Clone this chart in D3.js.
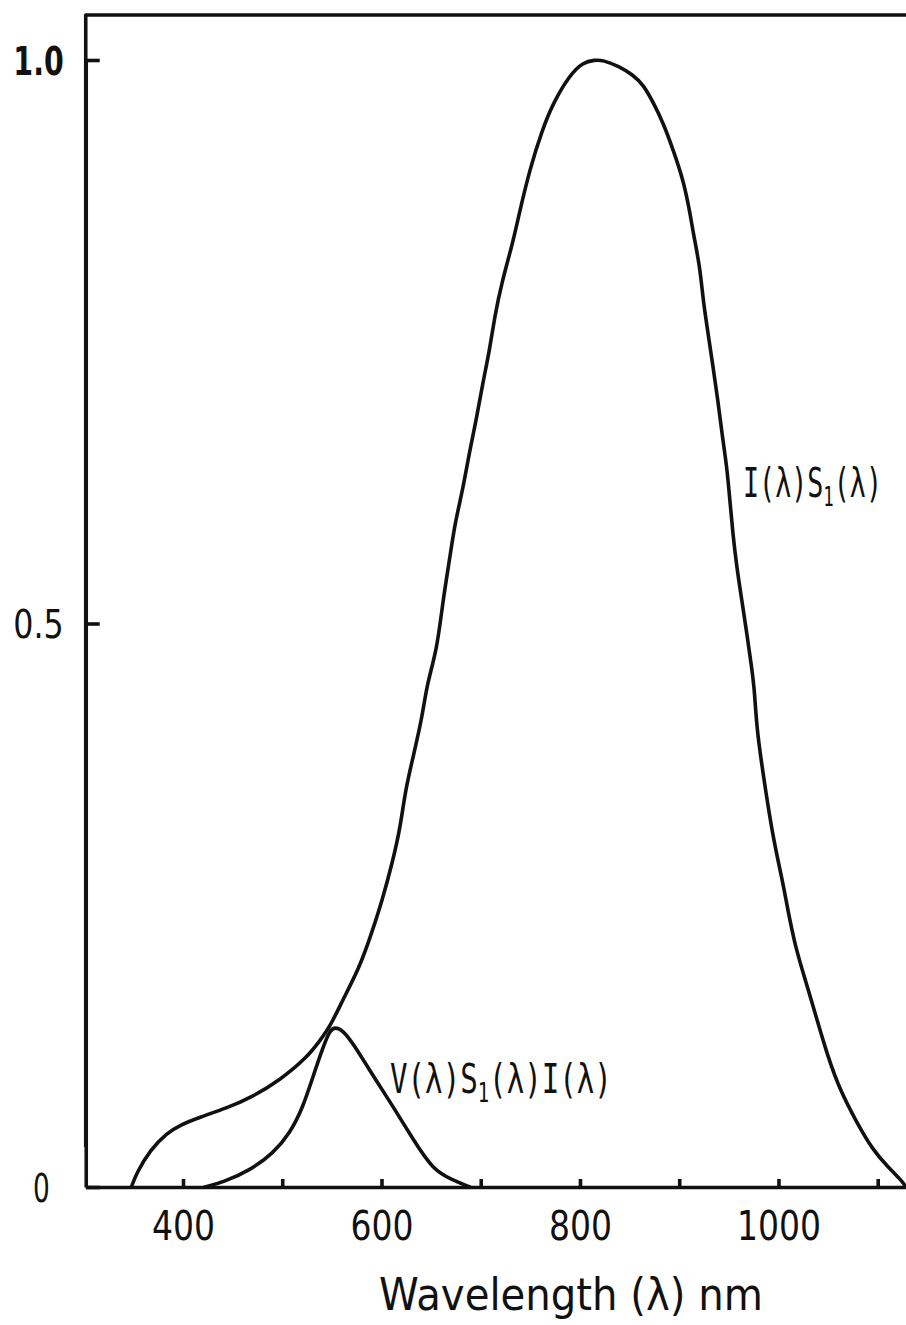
<!DOCTYPE html>
<html>
<head>
<meta charset="utf-8">
<script src="https://cdn.jsdelivr.net/npm/d3@7"></script>
<style>
  html, body { margin: 0; padding: 0; background: #fff; }
  svg { display: block; }
</style>
</head>
<body>
<svg id="chart" width="906" height="1325"></svg>
<script>
// Relative spectral curves, wavelength in nm vs. normalised value.
const irradianceWavelength = [348, 353, 367, 384, 397, 417, 444, 468, 498, 525, 538, 548, 561, 578, 590, 601, 611, 619, 624, 632, 641, 646, 656, 662, 669, 674, 682, 689, 696, 702, 709, 714, 721, 733, 738, 750, 762, 773, 790, 803, 815, 823, 840, 853, 864, 874, 884, 894, 904, 911, 914, 921, 924, 929, 934, 939, 943, 948, 951, 954, 958, 963, 968, 973, 976, 978, 987, 995, 1004, 1009, 1017, 1027, 1039, 1050, 1062, 1079, 1095, 1110, 1126, 1128];
const irradianceValue = [0, 0.012, 0.033, 0.048, 0.055, 0.062, 0.070, 0.079, 0.095, 0.115, 0.130, 0.142, 0.166, 0.195, 0.225, 0.255, 0.288, 0.319, 0.352, 0.382, 0.417, 0.447, 0.477, 0.521, 0.559, 0.589, 0.619, 0.654, 0.683, 0.713, 0.743, 0.772, 0.802, 0.840, 0.861, 0.905, 0.938, 0.962, 0.987, 0.998, 1.0, 1.0, 0.994, 0.987, 0.978, 0.962, 0.944, 0.920, 0.894, 0.864, 0.847, 0.816, 0.787, 0.758, 0.728, 0.698, 0.669, 0.639, 0.610, 0.580, 0.550, 0.521, 0.492, 0.461, 0.440, 0.406, 0.352, 0.308, 0.272, 0.248, 0.213, 0.184, 0.148, 0.115, 0.086, 0.057, 0.033, 0.018, 0.004, 0];

const visualWavelength = [422, 440, 468, 491, 508, 521, 531, 541, 548, 553, 561, 571, 592, 612, 632, 652, 672, 689];
const visualValue = [0, 0.004, 0.015, 0.030, 0.048, 0.071, 0.098, 0.124, 0.139, 0.142, 0.139, 0.128, 0.098, 0.071, 0.042, 0.015, 0.006, 0];

const xTicks = [400, 500, 600, 700, 800, 900, 1000, 1100];
const xTickLabels = ["400", "", "600", "", "800", "", "1000", ""];
const yTicks = [0, 0.5, 1.0];
const yTickLabels = ["0", "0.5", "1.0"];

const svg = d3.select("#chart");
const ink = "#111";
const strokeW = 3.6;

// 400 nm sits at x=183 and 1100 nm at x=877.7
const pxPerNm = (877.7 - 183) / 700;
const xDomain = [302, 1128];
const x = d3.scaleLinear()
  .domain(xDomain)
  .range([183 + (xDomain[0] - 400) * pxPerNm, 183 + (xDomain[1] - 400) * pxPerNm]);
const y = d3.scaleLinear().domain([0, 1]).range([1187, 60]);

const x0 = x.range()[0];

// top frame line
svg.append("path")
  .attr("d", `M${x0},${y(0) - 40} V15 H906`)
  .attr("fill", "none").attr("stroke", ink).attr("stroke-width", strokeW)
  .attr("stroke-linejoin", "round");

// x axis
const xAxis = svg.append("g")
  .attr("transform", `translate(0,${y(0)})`)
  .call(d3.axisBottom(x)
    .tickValues(xTicks)
    .tickSizeInner(-8)
    .tickSizeOuter(0)
    .tickFormat((d, i) => xTickLabels[i]));
xAxis.select(".domain").attr("stroke", ink).attr("stroke-width", strokeW);
xAxis.selectAll(".tick line").attr("stroke", ink).attr("stroke-width", strokeW);
xAxis.selectAll(".tick text")
  .attr("y", 53).attr("dy", null)
  .attr("fill", ink)
  .style("font-family", "'DejaVu Sans', sans-serif")
  .style("font-size", "40px")
  .attr("textLength", (d, i) => xTickLabels[i].length * 21)
  .attr("lengthAdjust", "spacingAndGlyphs");

// y axis
const yAxis = svg.append("g")
  .attr("transform", `translate(${x0},0)`)
  .call(d3.axisLeft(y)
    .tickValues(yTicks)
    .tickSizeInner(-14)
    .tickSizeOuter(0)
    .tickPadding(22)
    .tickFormat((d, i) => yTickLabels[i]));
yAxis.select(".domain").attr("stroke", ink).attr("stroke-width", strokeW);
yAxis.selectAll(".tick line").attr("stroke", ink).attr("stroke-width", strokeW);
yAxis.selectAll(".tick text")
  .attr("fill", ink)
  .attr("dy", "0.36em")
  .style("font-family", "'DejaVu Sans', sans-serif")
  .style("font-size", "39px")
  .style("font-weight", d => d === 1 ? "bold" : "normal")
  .attr("textLength", (d, i) => yTickLabels[i].length * 16.8)
  .attr("lengthAdjust", "spacingAndGlyphs");
yAxis.selectAll(".tick")
  .filter(d => d === 0)
  .select("text").attr("x", -36);

// axis title
svg.append("text")
  .attr("x", 379).attr("y", 1310)
  .attr("fill", ink)
  .style("font-family", "'DejaVu Sans', sans-serif")
  .style("font-size", "45px")
  .attr("textLength", 384)
  .attr("lengthAdjust", "spacingAndGlyphs")
  .text("Wavelength (λ) nm");

// curves, smoothed through the read-off points
const line = d3.line()
  .x(d => x(d[0]))
  .y(d => y(d[1]))
  .curve(d3.curveBasis);

svg.append("path")
  .datum(d3.zip(irradianceWavelength, irradianceValue))
  .attr("d", line)
  .attr("fill", "none").attr("stroke", ink).attr("stroke-width", strokeW)
  .attr("stroke-linejoin", "round").attr("stroke-linecap", "round");

svg.append("path")
  .datum(d3.zip(visualWavelength, visualValue))
  .attr("d", line)
  .attr("fill", "none").attr("stroke", ink).attr("stroke-width", strokeW)
  .attr("stroke-linejoin", "round").attr("stroke-linecap", "round");

// curve labels with subscript 1, squeezed horizontally to the given width
function curveLabel(px, py, parts, width) {
  const g = svg.append("g");
  const t = g.append("text")
    .attr("x", 0).attr("y", 0)
    .attr("fill", ink)
    .style("font-family", "'DejaVu Sans Mono', monospace")
    .style("font-size", "40px");
  parts.forEach(p => {
    const s = t.append("tspan").text(p.t);
    if (p.sub) s.attr("dy", 9).style("font-size", "26px");
    if (p.up) s.attr("dy", -9);
  });
  const natural = t.node().getBBox().width;
  g.attr("transform", `translate(${px},${py}) scale(${width / natural},1)`);
}

curveLabel(743, 497, [
  { t: "I(λ)S" }, { t: "1", sub: true }, { t: "(λ)", up: true }
], 139);

curveLabel(390, 1093, [
  { t: "V(λ)S" }, { t: "1", sub: true }, { t: "(λ)I(λ)", up: true }
], 222);
</script>
</body>
</html>
